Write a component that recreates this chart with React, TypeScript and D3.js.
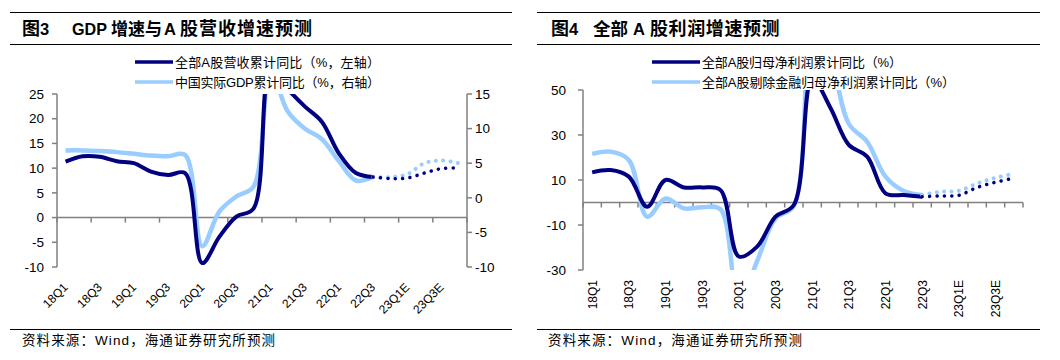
import React from "react";
import * as d3 from "d3";

const categories = [
  "18Q1","18Q2","18Q3","18Q4","19Q1","19Q2","19Q3","19Q4",
  "20Q1","20Q2","20Q3","20Q4","21Q1","21Q2","21Q3","21Q4",
  "22Q1","22Q2","22Q3","22Q4","23Q1E","23Q2E","23Q3E","23Q4E",
];
const shownLabels = ["18Q1","18Q3","19Q1","19Q3","20Q1","20Q3","21Q1","21Q3","22Q1","22Q3","23Q1E","23Q3E"];
const actualEndIndex = 18; // 22Q3 last actual, after that forecast (dotted)

// Figure 3
const revenueGrowth = [11.3, 12.4, 12.3, 11.4, 11.0, 9.3, 8.6, 9.0, -9.2, -3.9, 0.2, 1.8, 30, 26, 22.5, 19.4, 13.0, 9.0, 8.2, 7.9, 8.0, 9.0, 9.9, 10.0];
const gdpGrowth = [6.85, 6.85, 6.75, 6.6, 6.35, 6.1, 6.0, 6.2, -7.0, -2.0, 0.2, 1.6, 18.3, 12.5, 10.0, 8.5, 5.3, 2.5, 3.0, 3.0, 3.4, 5.0, 5.4, 5.0];
const leftTicks3 = [-10, -5, 0, 5, 10, 15, 20, 25];
const rightTicks3 = [-10, -5, 0, 5, 10, 15];

// Figure 4
const profitGrowth = [13.4, 14.4, 11.5, -1.9, 10.0, 6.7, 6.7, 5.5, -24, -19.6, -6.3, -1.1, 55, 42, 25.6, 20.4, 4.1, 3.3, 2.6, 2.9, 3.2, 6.7, 9.0, 10.8];
const profitExFinGrowth = [21.6, 22.6, 18.9, -6.3, 1.8, -2.6, -2.1, -3, -45, -26, -7, -1.5, 95, 68, 35, 27, 11.5, 5.1, 3.3, 4.8, 5.2, 8.5, 11, 12.8];
const ticks4 = [-30, -10, 10, 30, 50];

const DARK = "#000080";
const LIGHT = "#99CCFF";
const AXIS = "#808080";
const LATIN = "'Liberation Sans', Arial, sans-serif";
const CJK = "'Liberation Sans', 'Noto Sans CJK SC', sans-serif";
const CJKONLY = "'Noto Sans CJK SC', sans-serif";
const SOURCE = "资料来源：Wind，海通证券研究所预测";

const curve = d3.curveCatmullRom.alpha(0.5);

function seriesPaths(values: number[], x: (i: number) => number, y: d3.ScaleLinear<number, number>) {
  const line = d3.line<number>().x((_, i) => x(i)).y((d) => y(d)).curve(curve);
  const solid = values.slice(0, actualEndIndex + 1);
  const fc = values.slice(actualEndIndex);
  const lineF = d3.line<number>().x((_, i) => x(i + actualEndIndex)).y((d) => y(d)).curve(curve);
  return { solid: line(solid) || "", forecast: lineF(fc) || "" };
}

function Figure3() {
  const x = d3.scaleBand<string>().domain(categories).range([57, 467]).padding(0);
  const bw = x.bandwidth();
  const cx = (i: number) => (x(categories[i]) as number) + bw / 2;
  const yL = d3.scaleLinear().domain([-10, 25]).range([267, 94]);
  const yR = d3.scaleLinear().domain([-10, 15]).range([267, 94]);
  const rev = seriesPaths(revenueGrowth, cx, yL);
  const gdp = seriesPaths(gdpGrowth, cx, yR);
  const y0 = yL(0);
  const boundaries = d3.range(0, categories.length + 1, 2).map((k) => 57 + k * bw);
  return (
    <g>
      <defs>
        <clipPath id="clip3">
          <rect x={57} y={94} width={410} height={173} />
        </clipPath>
      </defs>
      <line x1={10} x2={512} y1={12.5} y2={12.5} stroke="#000" strokeWidth={1} />
      <text y={35} fontWeight="bold" fill="#000">
        <tspan x={22} fontFamily={CJKONLY} fontSize={18}>图</tspan>
        <tspan fontFamily={LATIN} fontSize={16.5}>3</tspan>
        <tspan x={72} fontFamily={LATIN} fontSize={16.5} textLength={35} lengthAdjust="spacingAndGlyphs">GDP</tspan>
        <tspan x={111} fontFamily={CJKONLY} fontSize={17}>增速与</tspan>
        <tspan x={164} fontFamily={LATIN} fontSize={16.5}>A</tspan>
        <tspan x={180} fontFamily={CJKONLY} fontSize={18} letterSpacing={1}>股营收增速预测</tspan>
      </text>
      <line x1={10} x2={512} y1={44.5} y2={44.5} stroke="#000" strokeWidth={1} />

      {/* legend */}
      <line x1={135} x2={173} y1={62} y2={62} stroke={DARK} strokeWidth={3.5} />
      <text x={175} y={66.5} fontFamily={CJK} fontSize={13} textLength={205} lengthAdjust="spacing" fill="#000">全部A股营收累计同比（%，左轴）</text>
      <line x1={135} x2={173} y1={82} y2={82} stroke={LIGHT} strokeWidth={3.5} />
      <text x={175} y={86.5} fontFamily={CJK} fontSize={13} textLength={205} lengthAdjust="spacing" fill="#000">中国实际GDP累计同比（%，右轴）</text>

      {/* left axis */}
      <line x1={57} x2={57} y1={94} y2={267} stroke={AXIS} strokeWidth={1.5} />
      {leftTicks3.map((t) => (
        <g key={"l" + t}>
          <line x1={52} x2={57} y1={yL(t)} y2={yL(t)} stroke={AXIS} strokeWidth={1.5} />
          <text x={44} y={yL(t)} dy="0.35em" textAnchor="end" fontFamily={LATIN} fontSize={13.5} fill="#000">{t}</text>
        </g>
      ))}
      {/* right axis */}
      <line x1={467} x2={467} y1={94} y2={267} stroke={AXIS} strokeWidth={1.5} />
      {rightTicks3.map((t) => (
        <g key={"r" + t}>
          <line x1={467} x2={472} y1={yR(t)} y2={yR(t)} stroke={AXIS} strokeWidth={1.5} />
          <text x={475} y={yR(t)} dy="0.35em" textAnchor="start" fontFamily={LATIN} fontSize={13.5} fill="#000">{t}</text>
        </g>
      ))}
      {/* x axis */}
      <line x1={57} x2={467} y1={y0} y2={y0} stroke={AXIS} strokeWidth={1.5} />
      {boundaries.map((b, k) => (
        <line key={"b" + k} x1={b} x2={b} y1={y0} y2={y0 + 5} stroke={AXIS} strokeWidth={1.5} />
      ))}
      {shownLabels.map((lab) => {
        const i = categories.indexOf(lab);
        return (
          <text key={lab} transform={`translate(${cx(i) + 3},288) rotate(-45)`} textAnchor="end" fontFamily={LATIN} fontSize={12} fill="#000">{lab}</text>
        );
      })}

      {/* series */}
      <g clipPath="url(#clip3)">
        <path d={gdp.solid} fill="none" stroke={LIGHT} strokeWidth={4.5} strokeLinejoin="round" />
        <path d={rev.solid} fill="none" stroke={DARK} strokeWidth={4} strokeLinejoin="round" />
      </g>
      <path d={gdp.forecast} fill="none" stroke={LIGHT} strokeWidth={4} strokeLinecap="round" strokeDasharray="0.1 7.3" />
      <path d={rev.forecast} fill="none" stroke={DARK} strokeWidth={3.5} strokeLinecap="round" strokeDasharray="0.1 7.3" />

      <line x1={10} x2={512} y1={329.5} y2={329.5} stroke="#000" strokeWidth={1} />
      <text x={22} y={345} fontFamily={CJK} fontSize={13.5} textLength={253} lengthAdjust="spacing" fill="#000">{SOURCE}</text>
    </g>
  );
}

function Figure4() {
  const x = d3.scaleBand<string>().domain(categories).range([583, 1023]).padding(0);
  const bw = x.bandwidth();
  const cx = (i: number) => (x(categories[i]) as number) + bw / 2;
  const y = d3.scaleLinear().domain([-30, 50]).range([270, 90]);
  const p = seriesPaths(profitGrowth, cx, y);
  const q = seriesPaths(profitExFinGrowth, cx, y);
  const y0 = y(0);
  const boundaries = d3.range(0, categories.length + 1, 1).map((k) => 583 + k * bw);
  return (
    <g>
      <defs>
        <clipPath id="clip4">
          <rect x={583} y={90} width={440} height={180} />
        </clipPath>
      </defs>
      <line x1={537} x2={1040} y1={12.5} y2={12.5} stroke="#000" strokeWidth={1} />
      <text y={35} fontWeight="bold" fill="#000">
        <tspan x={551} fontFamily={CJKONLY} fontSize={18}>图</tspan>
        <tspan fontFamily={LATIN} fontSize={16.5}>4</tspan>
        <tspan x={593} fontFamily={CJKONLY} fontSize={17.5}>全部</tspan>
        <tspan x={633} fontFamily={LATIN} fontSize={16.5}>A</tspan>
        <tspan x={650} fontFamily={CJKONLY} fontSize={18} letterSpacing={0.6}>股利润增速预测</tspan>
      </text>
      <line x1={537} x2={1040} y1={44.5} y2={44.5} stroke="#000" strokeWidth={1} />

      <line x1={652} x2={700} y1={62} y2={62} stroke={DARK} strokeWidth={3.5} />
      <text x={702} y={66.5} fontFamily={CJK} fontSize={13} textLength={200} lengthAdjust="spacing" fill="#000">全部A股归母净利润累计同比（%）</text>
      <line x1={652} x2={700} y1={82} y2={82} stroke={LIGHT} strokeWidth={3.5} />
      <text x={702} y={86.5} fontFamily={CJK} fontSize={13} textLength={253} lengthAdjust="spacing" fill="#000">全部A股剔除金融归母净利润累计同比（%）</text>

      <line x1={583} x2={583} y1={90} y2={270} stroke={AXIS} strokeWidth={1.5} />
      {ticks4.map((t) => (
        <g key={"t" + t}>
          <line x1={578} x2={583} y1={y(t)} y2={y(t)} stroke={AXIS} strokeWidth={1.5} />
          <text x={566} y={y(t)} dy="0.35em" textAnchor="end" fontFamily={LATIN} fontSize={13.5} fill="#000">{t}</text>
        </g>
      ))}
      <line x1={583} x2={1023} y1={y0} y2={y0} stroke={AXIS} strokeWidth={1.5} />
      {boundaries.map((b, k) => (
        <line key={"b" + k} x1={b} x2={b} y1={y0} y2={y0 + 5} stroke={AXIS} strokeWidth={1.5} />
      ))}
      {shownLabels.map((lab) => {
        const i = categories.indexOf(lab);
        return (
          <text key={lab} transform={`translate(${cx(i) + 4.5},280) rotate(-90)`} textAnchor="end" fontFamily={LATIN} fontSize={12} fill="#000">{lab}</text>
        );
      })}

      <g clipPath="url(#clip4)">
        <path d={q.solid} fill="none" stroke={LIGHT} strokeWidth={4.5} strokeLinejoin="round" />
        <path d={p.solid} fill="none" stroke={DARK} strokeWidth={4} strokeLinejoin="round" />
      </g>
      <path d={q.forecast} fill="none" stroke={LIGHT} strokeWidth={4} strokeLinecap="round" strokeDasharray="0.1 7.3" />
      <path d={p.forecast} fill="none" stroke={DARK} strokeWidth={3.5} strokeLinecap="round" strokeDasharray="0.1 7.3" />

      <line x1={537} x2={1040} y1={329.5} y2={329.5} stroke="#000" strokeWidth={1} />
      <text x={548} y={345} fontFamily={CJK} fontSize={13.5} textLength={254} lengthAdjust="spacing" fill="#000">{SOURCE}</text>
    </g>
  );
}

export default function App() {
  return (
    <svg width={1060} height={360} viewBox="0 0 1060 360" style={{ display: "block", position: "absolute", left: 0, top: 0, background: "#fff" }}>
      <rect x={0} y={0} width={1060} height={360} fill="#fff" />
      <Figure3 />
      <Figure4 />
    </svg>
  );
}
